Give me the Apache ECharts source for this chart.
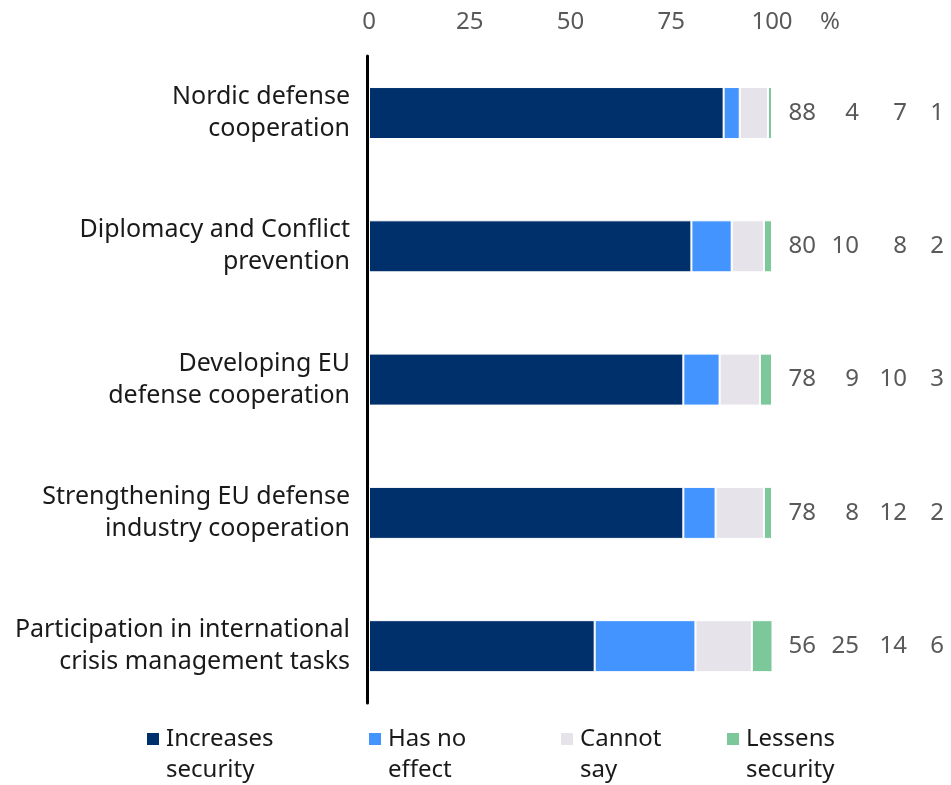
<!DOCTYPE html>
<html>
<head>
<meta charset="utf-8">
<script src="https://cdn.jsdelivr.net/npm/echarts@6/dist/echarts.min.js"></script>
<style>
html,body{margin:0;padding:0;background:#fff;}
#chart{width:951px;height:785px;}
</style>
</head>
<body>
<div id="chart"></div>
<script>
var categories = [
  "Nordic defense\ncooperation",
  "Diplomacy and Conflict\nprevention",
  "Developing EU\ndefense cooperation",
  "Strengthening EU defense\nindustry cooperation",
  "Participation in international\ncrisis management tasks"
];
var seriesNames = ["Increases\nsecurity", "Has no\neffect", "Cannot\nsay", "Lessens\nsecurity"];
var increases = [88, 80, 78, 78, 56];
var noEffect  = [4, 10, 9, 8, 25];
var cannotSay = [7, 8, 10, 12, 14];
var lessens   = [1, 2, 3, 2, 6];
var tickValues = [0, 25, 50, 75, 100];
var unitLabel = "%";

var colors = ["#00306b", "#4394fe", "#e6e4ea", "#7cc89b"];
var FONT = "Noto Sans";
var seriesData = [increases, noEffect, cannotSay, lessens];

var chart = echarts.init(document.getElementById('chart'), null, {renderer: 'canvas'});

var series = seriesData.map(function (d, i) {
  return {
    type: 'bar',
    name: seriesNames[i],
    stack: 'total',
    xAxisIndex: 0,
    yAxisIndex: 0,
    barWidth: 52,
    data: d,
    itemStyle: {color: colors[i], borderColor: '#ffffff', borderWidth: 1},
    emphasis: {disabled: true},
    animation: false
  };
});

var legendLefts = [141, 363, 555, 721];
var legends = seriesNames.map(function (n, i) {
  var parts = n.split("\n");
  return {
    data: [n],
    left: legendLefts[i],
    top: 727,
    padding: 0,
    icon: 'rect',
    itemWidth: 0,
    itemHeight: 0,
    selectedMode: false,
    formatter: function () {
      return '{sq|}{g|}{t|' + parts[0] + '}\n{sp|}{t|' + parts[1] + '}';
    },
    textStyle: {
      rich: {
        sq: {width: 12, height: 12, backgroundColor: colors[i]},
        g: {width: 7},
        sp: {width: 19},
        t: {fontFamily: FONT, fontSize: 24, color: '#1a1a1a', lineHeight: 31}
      }
    }
  };
});

var option = {
  backgroundColor: '#ffffff',
  animation: false,
  grid: [
    {left: 369, width: 403, top: 46.4, height: 666.4, containLabel: false},
    {left: 367.5, width: 403, top: 56, height: 647, containLabel: false}
  ],
  legend: legends,
  xAxis: [
    {
      gridIndex: 0,
      type: 'value',
      position: 'top',
      min: 0,
      max: 100,
      interval: 25,
      axisLine: {show: false},
      axisTick: {show: false},
      splitLine: {show: false},
      axisLabel: {
        margin: 12,
        fontFamily: FONT,
        fontSize: 24,
        color: '#595959',
        formatter: function (v) { return tickValues.indexOf(v) >= 0 ? String(v) : ''; }
      },
      name: unitLabel,
      nameLocation: 'end',
      nameGap: 48,
      nameTextStyle: {
        fontFamily: FONT, fontSize: 24, color: '#595959',
        verticalAlign: 'bottom', padding: [0, 0, 12, 0]
      }
    },
    {
      gridIndex: 1,
      type: 'value',
      show: false,
      min: 0,
      max: 100
    }
  ],
  yAxis: [
    {
      gridIndex: 0,
      type: 'category',
      inverse: true,
      data: categories,
      position: 'left',
      axisLine: {show: false},
      axisTick: {show: false},
      axisLabel: {
        margin: 19,
        fontFamily: FONT,
        fontSize: 25,
        color: '#1a1a1a',
        lineHeight: 32,
        align: 'right'
      }
    },
    {
      gridIndex: 0,
      type: 'category',
      inverse: true,
      data: categories,
      position: 'right',
      axisLine: {show: false},
      axisTick: {show: false},
      axisLabel: {
        margin: 0,
        align: 'left',
        formatter: function (v, idx) {
          return '{a|' + increases[idx] + '}{b|' + noEffect[idx] + '}{c|' + cannotSay[idx] + '}{d|' + lessens[idx] + '}';
        },
        rich: {
          a: {width: 44, align: 'right', fontFamily: FONT, fontSize: 24, color: '#595959'},
          b: {width: 43, align: 'right', fontFamily: FONT, fontSize: 24, color: '#595959'},
          c: {width: 48, align: 'right', fontFamily: FONT, fontSize: 24, color: '#595959'},
          d: {width: 37, align: 'right', fontFamily: FONT, fontSize: 24, color: '#595959'}
        }
      }
    },
    {
      gridIndex: 1,
      type: 'value',
      min: 0,
      max: 1,
      position: 'left',
      axisLine: {show: true, onZero: false, lineStyle: {color: '#000000', width: 3}},
      axisTick: {show: false},
      axisLabel: {show: false},
      splitLine: {show: false}
    }
  ],
  series: series
};

chart.setOption(option);
</script>
</body>
</html>
